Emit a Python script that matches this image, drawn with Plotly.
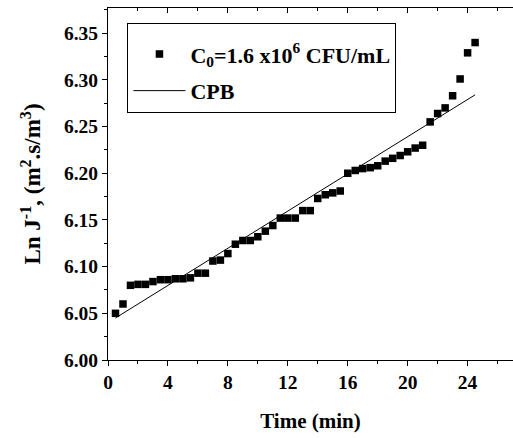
import plotly.graph_objects as go

time_min = [0.5, 1.0, 1.5, 2.0, 2.5, 3.0, 3.5, 4.0, 4.5, 5.0, 5.5, 6.0, 6.5, 7.0, 7.5,
            8.0, 8.5, 9.0, 9.5, 10.0, 10.5, 11.0, 11.5, 12.0, 12.5, 13.0, 13.5, 14.0,
            14.5, 15.0, 15.5, 16.0, 16.5, 17.0, 17.5, 18.0, 18.5, 19.0, 19.5, 20.0,
            20.5, 21.0, 21.5, 22.0, 22.5, 23.0, 23.5, 24.0, 24.5]
ln_j_inv = [6.050, 6.060, 6.080, 6.081, 6.081, 6.084, 6.086, 6.086, 6.087, 6.087,
            6.088, 6.093, 6.093, 6.106, 6.107, 6.114, 6.124, 6.128, 6.128, 6.132,
            6.138, 6.144, 6.152, 6.152, 6.152, 6.160, 6.160, 6.173, 6.177, 6.179,
            6.181, 6.200, 6.203, 6.205, 6.206, 6.208, 6.213, 6.216, 6.219, 6.223,
            6.227, 6.230, 6.255, 6.264, 6.270, 6.283, 6.301, 6.329, 6.340]

cpb_time = [0.5, 24.5]
cpb_value = [6.045, 6.284]

x_ticks = [0, 4, 8, 12, 16, 20, 24]
y_ticks = [6.00, 6.05, 6.10, 6.15, 6.20, 6.25, 6.30, 6.35]

FONT = "Liberation Serif"

fig = go.Figure()
fig.add_trace(go.Scatter(
    x=time_min, y=ln_j_inv, mode="markers", legendgroup="a",
    name="C<sub>0</sub>=1.6 x10<sup>6</sup> CFU/mL",
    marker=dict(symbol="square", size=7.5, color="black", line=dict(width=0)),
))
fig.add_trace(go.Scatter(
    x=cpb_time, y=cpb_value, mode="lines", name="CPB", legendgroup="b",
    line=dict(color="black", width=1),
))
# invisible trace to anchor the top (mirror) axis with inward ticks
fig.add_trace(go.Scatter(
    x=cpb_time, y=cpb_value, mode="lines", xaxis="x2", yaxis="y",
    line=dict(color="rgba(0,0,0,0)", width=0), showlegend=False, hoverinfo="skip",
))

tickfont = dict(family=FONT, size=19.5, color="black", weight="bold")

fig.update_layout(
    width=513, height=438,
    margin=dict(l=108, r=0, t=8, b=78),
    paper_bgcolor="white", plot_bgcolor="white",
    showlegend=True,
    legend=dict(
        x=0.048, y=0.957, xanchor="left", yanchor="top",
        bordercolor="black", borderwidth=1, bgcolor="white",
        itemwidth=52, tracegroupgap=5,
        title=dict(text=" ", font=dict(family=FONT, size=7)),
        font=dict(family=FONT, size=22, color="black", weight="bold"),
    ),
    xaxis=dict(
        range=[0, 27.03], tickvals=x_ticks, ticktext=[str(v) for v in x_ticks],
        showline=True, linecolor="black", linewidth=1, mirror=True,
        ticks="outside", ticklen=5, tickcolor="black", tickwidth=1,
        minor=dict(dtick=2, tick0=0, ticks="outside", ticklen=3, tickcolor="black"),
        showgrid=False, zeroline=False, tickfont=tickfont, automargin=False,
        title=dict(text="Time (min)", font=dict(family=FONT, size=21, color="black", weight="bold"),
                   standoff=20),
    ),
    xaxis2=dict(
        overlaying="x", side="top", anchor="y", matches="x", range=[0, 27.03],
        tickvals=x_ticks, showticklabels=False,
        ticks="inside", ticklen=5, tickcolor="black", tickwidth=1,
        minor=dict(dtick=2, tick0=0, ticks="inside", ticklen=3, tickcolor="black"),
        showgrid=False, zeroline=False, showline=False,
    ),
    yaxis=dict(
        range=[6.0, 6.377], tickvals=y_ticks, ticktext=[f"{v:.2f}" for v in y_ticks],
        showline=True, linecolor="black", linewidth=1, mirror=False,
        ticks="outside", ticklen=5, tickcolor="black", tickwidth=1,
        minor=dict(dtick=0.025, tick0=6.0, ticks="outside", ticklen=3, tickcolor="black"),
        showgrid=False, zeroline=False, tickfont=tickfont, automargin=False,
        title=dict(text="Ln J<sup>-1</sup>, (m<sup>2</sup>.s/m<sup>3</sup>)",
                   font=dict(family=FONT, size=23, color="black", weight="bold"),
                   standoff=16),
    ),
)

fig.write_html("out.html")
